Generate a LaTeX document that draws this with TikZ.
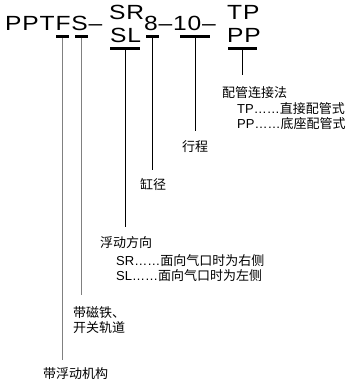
\documentclass[tikz,border=0pt]{standalone}
\usepackage{fontspec}
\setmainfont{Liberation Sans}
\newfontfamily\cjk{Noto Sans CJK SC}
\newfontfamily\codefont[FakeStretch=1.2,LetterSpace=4]{Liberation Sans}
\usetikzlibrary{positioning}

\begin{document}
\begin{tikzpicture}[x=1pt, y=-1pt, code/.style={font=\codefont\fontsize{20.5}{24}\selectfont, inner sep=0pt, anchor=base west}, lbl/.style={font=\cjk\fontsize{13}{15}\selectfont, inner sep=0pt, anchor=base west}, bar/.style={fill=black, inner sep=0pt, minimum height=2.5pt}, lead/.style={line width=0.9pt}, leadg/.style={line width=1.3pt, gray}]
\useasboundingbox (0,0) rectangle (351,389);
% model code
\node[code] (pre) at (5,30.5) {PPTFS–};
\node[code] (sr) at (109,19) {SR};
\node[code] (sl) at (110,42.5) {SL};
\node[code] (size) at (144,30.5) {8–10–};
\node[code] (tp) at (227,19) {TP};
\node[code] (pp) at (227,42.5) {PP};
% marks under the code
\node[bar, minimum width=13pt] (bF) at (62.5,36.5) {};
\node[bar, minimum width=13pt] (bS) at (81.5,36.5) {};
\node[bar, minimum width=30pt] (bSL) at (125,48.5) {};
\node[bar, minimum width=13pt] (b8) at (152,36.5) {};
\node[bar, minimum width=30pt] (b10) at (195,36.5) {};
\node[bar, minimum width=29pt] (bPP) at (242.5,48.5) {};
% explanations
\node[lbl] (piping) at (222,97) {配管连接法};
\node[lbl] (tpx) at (237,113) {{\rmfamily TP……}直接配管式};
\node[lbl] (ppx) at (237,128) {{\rmfamily PP……}底座配管式};
\node[lbl] (stroke) at (182,151) {行程};
\node[lbl] (bore) at (140,189) {缸径};
\node[lbl] (float) at (100,247) {浮动方向};
\node[lbl] (srx) at (116,265) {{\rmfamily SR……}面向气口时为右侧};
\node[lbl] (slx) at (116,280) {{\rmfamily SL……}面向气口时为左侧};
\node[lbl, anchor=north west, align=left] (rail) at (73,306) {带磁铁、\\开关轨道};
\node[lbl] (floatm) at (43,378) {带浮动机构};
% leader ends
\coordinate (tF) at (62.5,360);
\coordinate (tS) at (81.5,295);
\coordinate (tSL) at (125,227);
\coordinate (t8) at (152,170);
\coordinate (t10) at (195,131);
\coordinate (tPP) at (242.5,75);
\draw[leadg] (bF.south) -- (tF);
\draw[leadg] (bS.south) -- (tS);
\draw[lead] (bSL.south) -- (tSL);
\draw[lead] (b8.south) -- (t8);
\draw[lead] (b10.south) -- (t10);
\draw[lead] (bPP.south) -- (tPP);
\end{tikzpicture}
\end{document}
